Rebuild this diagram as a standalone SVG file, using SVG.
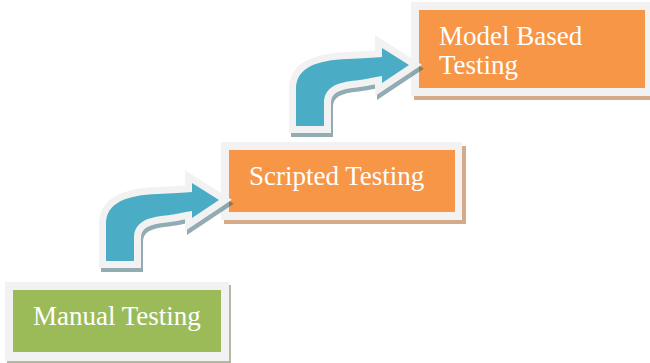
<svg xmlns="http://www.w3.org/2000/svg" width="650" height="363" viewBox="0 0 650 363">
  <style>
    .frame { fill: #f2f2f2; }
    .label { font-family: "Liberation Serif", "Times New Roman", serif; font-size: 27px; fill: #ffffff; }
    .arrow-fill { fill: #4bacc6; }
    .arrow-edge { fill: #f2f2f2; stroke: #f2f2f2; stroke-width: 14; stroke-linejoin: miter; stroke-miterlimit: 4; }
    .arrow-shadow { fill: #2a5a6a; stroke: #2a5a6a; stroke-width: 14; stroke-linejoin: miter; opacity: 0.5; }
  </style>
  <defs>
    <!-- bent "step up" arrow: vertical stem curving into a horizontal shaft -->
    <path id="bent-arrow" d="M106,261 L106,224 C106,203 126,195 158,194 C172,193.5 184,192.5 192,192 L192,183 L219,200 L192,218 L192,211 C184,212 176,214.5 166,215.5 C148,217 134,222 134,238 L134,261 Z"/>
  </defs>

  <rect width="650" height="363" fill="#ffffff"/>

  <!-- step 1 -->
  <g id="manual-testing">
    <rect x="7" y="285" width="224" height="78" fill="#b3b99d"/>
    <rect class="frame" x="5" y="282" width="224" height="79"/>
    <rect x="13" y="290" width="208" height="62" fill="#9bbb59"/>
    <text class="label" x="33" y="325">Manual Testing</text>
  </g>

  <!-- step 2 -->
  <g id="scripted-testing">
    <rect x="224" y="146" width="242" height="78" fill="#d5aa8b"/>
    <rect class="frame" x="221" y="142" width="241" height="78"/>
    <rect x="229" y="150" width="226" height="62" fill="#f79646"/>
    <text class="label" x="249" y="185">Scripted Testing</text>
  </g>

  <!-- step 3 -->
  <g id="model-based-testing">
    <rect x="414" y="7" width="236" height="93" fill="#d5aa8b"/>
    <rect class="frame" x="411" y="2" width="239" height="94"/>
    <rect x="419" y="10" width="226" height="78" fill="#f79646"/>
    <text class="label" x="439" y="45">Model Based</text>
    <text class="label" x="439" y="74">Testing</text>
  </g>

  <!-- connectors -->
  <g id="connectors">
    <g id="arrow-1">
      <use href="#bent-arrow" class="arrow-shadow" transform="translate(2,4)"/>
      <use href="#bent-arrow" class="arrow-edge"/>
      <use href="#bent-arrow" class="arrow-fill"/>
    </g>
    <g id="arrow-2" transform="translate(190,-135)">
      <use href="#bent-arrow" class="arrow-shadow" transform="translate(2,4)"/>
      <use href="#bent-arrow" class="arrow-edge"/>
      <use href="#bent-arrow" class="arrow-fill"/>
    </g>
  </g>
</svg>
